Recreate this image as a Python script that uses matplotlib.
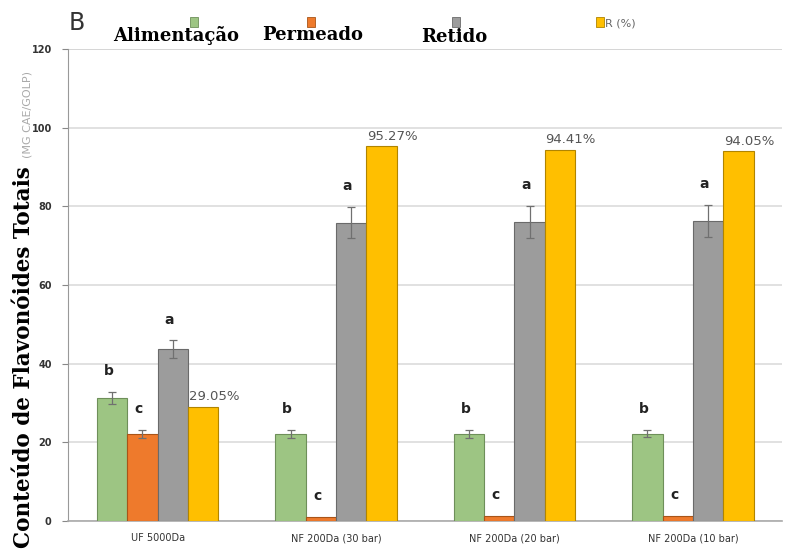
import numpy as np
import matplotlib.pyplot as plt

categories = ["UF 5000Da", "NF 200Da (30 bar)", "NF 200Da (20 bar)", "NF 200Da (10 bar)"]
series_names = ["Alimentação", "Permeado", "Retido", "R (%)"]

alimentacao = [31.3, 22.1, 22.1, 22.2]
permeado = [22.1, 1.0, 1.2, 1.2]
retido = [43.7, 75.8, 76.0, 76.3]
rejeicao = [29.05, 95.27, 94.41, 94.05]

alimentacao_err = [1.5, 1.0, 1.0, 1.0]
permeado_err = [1.0, 0.0, 0.0, 0.0]
retido_err = [2.2, 4.0, 4.0, 4.0]

alimentacao_letters = ["b", "b", "b", "b"]
permeado_letters = ["c", "c", "c", "c"]
retido_letters = ["a", "a", "a", "a"]

colors = ["#9DC583", "#EE7A2C", "#9C9C9C", "#FFBF00"]
edges = ["#6E8F5A", "#A85418", "#6A6A6A", "#B08400"]

fig = plt.figure(figsize=(7.86, 5.5), dpi=100)
ax = fig.add_axes([0.087, 0.053, 0.908, 0.858])

x = np.arange(len(categories))
w = 0.17
offsets = np.array([-1.5, -0.5, 0.5, 1.5]) * w
values = [alimentacao, permeado, retido, rejeicao]
errs = [alimentacao_err, permeado_err, retido_err, None]

for i, (vals, err) in enumerate(zip(values, errs)):
    ax.bar(x + offsets[i], vals, width=w, color=colors[i], edgecolor=edges[i],
           linewidth=0.8, zorder=3)
    if err is not None:
        e = np.array(err)
        mask = e > 0
        ax.errorbar((x + offsets[i])[mask], np.array(vals)[mask], yerr=e[mask],
                    fmt="none", ecolor="#707070", elinewidth=0.9, capsize=3,
                    capthick=0.9, zorder=4)

# significance letters above bars
for i, (vals, err, letters) in enumerate(zip(values[:3], errs[:3],
                                              [alimentacao_letters, permeado_letters, retido_letters])):
    for j in range(len(categories)):
        top = vals[j] + err[j]
        ax.text(x[j] + offsets[i] - 0.02, top + 3.5, letters[j], ha="center", va="bottom",
                fontsize=10, fontweight="bold", color="#222222", zorder=5)

# rejection percentages
for j in range(len(categories)):
    ax.text(x[j] + offsets[3] + 0.06, rejeicao[j] + 0.8, f"{rejeicao[j]:.2f}%",
            ha="center", va="bottom", fontsize=9.5, color="#555555", zorder=5)

ax.set_xlim(-0.5, len(categories) - 0.5)
ax.set_ylim(0, 120)
ax.set_yticks(np.arange(0, 121, 20))
ax.set_xticks(x)
ax.set_xticklabels(categories, fontsize=7, color="#333333")
ax.tick_params(axis="x", length=0, pad=9)
ax.tick_params(axis="y", length=4, color="#888888", labelsize=7, labelcolor="#333333", pad=8)
for lbl in ax.get_yticklabels():
    lbl.set_fontweight("bold")

ax.grid(axis="y", color="#DCDCDC", linewidth=1.2, zorder=0)
ax.axhline(120, color="#BBBBBB", linewidth=1.4, zorder=1)
for side in ["top", "right"]:
    ax.spines[side].set_visible(False)
ax.spines["left"].set_color("#999999")
ax.spines["bottom"].set_color("#AAAAAA")
ax.spines["bottom"].set_linewidth(1.2)

# y-axis title in two parts
fig.text(0.030, 0.004, "Conteúdo de Flavonóides Totais", rotation=90, ha="center", va="bottom",
         fontsize=15.5, fontweight="bold", family="DejaVu Serif", color="black")
fig.text(0.035, 0.712, "(MG CAE/GOLP)", rotation=90, ha="center", va="bottom",
         fontsize=8, color="#AAAAAA")

# panel letter and legend
fig.text(0.098, 0.958, "B", fontsize=17, ha="center", va="center", color="#333333")
legend_sq_x = [0.247, 0.396, 0.580, 0.763]
legend_lbl_x = [0.224, 0.398, 0.578]
legend_lbl_y = [0.936, 0.936, 0.933]
for i in range(4):
    fig.patches.append(plt.Rectangle((legend_sq_x[i] - 0.005, 0.951), 0.0102, 0.018,
                                     transform=fig.transFigure, facecolor=colors[i],
                                     edgecolor=edges[i], linewidth=0.6))
for i in range(3):
    fig.text(legend_lbl_x[i], legend_lbl_y[i], series_names[i], ha="center", va="center",
             fontsize=13, fontweight="bold", family="DejaVu Serif", color="black")
fig.text(0.770, 0.958, series_names[3], ha="left", va="center",
         fontsize=8, color="#666666")

fig.savefig("out.png", dpi=100)
